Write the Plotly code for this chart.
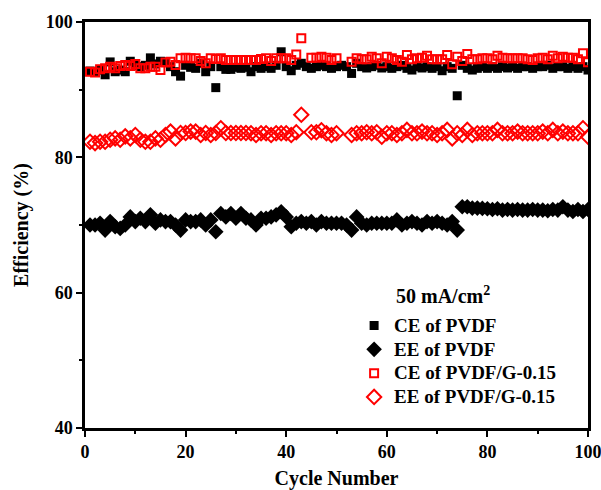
import plotly.graph_objects as go

# Cycle index 1..100
cycles = list(range(1, 101))

# Coulombic efficiency of PVDF membrane (%)
ce_pvdf = [
    92.75, 92.65, 92.9, 92.2, 94.1, 92.65, 92.9, 92.65, 94.2, 93.6,
    93.4, 93.6, 94.7, 93.8, 94.2, 94.1, 93.4, 92.65, 92.0, 93.6,
    93.3, 93.15, 93.9, 92.65, 93.4, 90.3, 93.4, 93.0, 93.0, 93.3,
    93.15, 93.3, 92.65, 93.4, 93.15, 93.4, 93.15, 93.6, 95.6, 93.4,
    92.8, 93.6, 93.9, 93.4, 93.15, 93.4, 93.6, 93.4, 93.15, 93.4,
    93.6, 93.4, 92.4, 93.9, 93.4, 93.2, 93.4, 93.6, 93.2, 93.4,
    93.15, 93.4, 93.6, 93.15, 92.9, 93.4, 93.2, 93.4, 93.15, 93.4,
    92.8, 93.4, 93.15, 89.1, 93.6, 93.15, 92.9, 93.15, 93.4, 93.15,
    93.4, 93.15, 93.4, 93.2, 93.4, 93.15, 93.4, 93.4, 93.15, 93.4,
    93.4, 93.6, 93.15, 93.4, 93.4, 93.15, 93.4, 93.15, 93.4, 92.9,
]

# Energy efficiency of PVDF membrane (%)
ee_pvdf = [
    70.0, 70.0, 70.25, 69.25, 70.5, 69.75, 69.5, 70.0, 71.2, 70.5,
    71.0, 70.5, 71.5, 70.25, 70.75, 70.5, 70.5, 70.0, 69.25, 70.75,
    70.5, 70.5, 70.75, 70.0, 70.75, 69.0, 71.7, 71.2, 71.7, 71.0,
    71.7, 71.0, 70.75, 70.0, 71.0, 71.0, 71.2, 71.5, 71.95, 71.2,
    69.75, 70.25, 70.5, 70.25, 70.5, 70.0, 70.5, 70.25, 70.25, 70.25,
    70.25, 70.0, 69.25, 71.2, 70.25, 70.0, 70.25, 70.25, 70.25, 70.25,
    70.25, 70.75, 70.0, 70.25, 70.5, 70.25, 70.0, 70.5, 70.25, 70.5,
    70.25, 70.0, 70.5, 69.25, 72.7, 72.7, 72.5, 72.5, 72.45, 72.4,
    72.3, 72.4, 72.2, 72.3, 72.2, 72.3, 72.2, 72.2, 72.3, 72.2,
    72.2, 72.1, 72.3, 72.2, 72.7, 72.2, 72.0, 72.3, 72.0, 72.3,
]

# Coulombic efficiency of PVDF/G-0.15 membrane (%)
ce_g = [
    92.65, 92.55, 93.0, 93.15, 93.4, 93.15, 93.5, 93.64, 93.5, 93.8,
    93.15, 93.15, 93.4, 93.4, 92.9, 94.0, 94.13, 93.64, 94.63, 94.73,
    94.63, 94.63, 94.24, 93.9, 94.63, 94.53, 94.63, 94.38, 94.38, 94.38,
    94.38, 94.38, 94.38, 94.38, 94.53, 94.63, 94.24, 94.63, 94.63, 94.63,
    94.38, 95.2, 97.6, None, 94.73, 94.73, 94.87, 94.73, 94.38, 94.63,
    None, None, 94.14, 94.63, 94.48, 94.48, 94.87, 94.63, 93.89, 94.87,
    94.63, 94.38, 94.14, 95.12, 94.48, 94.63, 94.73, 95.02, 94.48, 94.48,
    94.48, 95.12, 93.74, 94.87, 94.24, 95.27, 94.48, 94.48, 94.63, 94.63,
    94.48, 95.02, 94.73, 94.63, 94.63, 94.63, 94.63, 94.48, 94.38, 94.63,
    94.73, 94.48, 95.02, 94.63, 94.87, 94.73, 94.73, 94.48, 95.37, 94.04,
]

# Energy efficiency of PVDF/G-0.15 membrane (%)
ee_g = [
    82.3, 82.1, 82.3, 82.3, 82.6, 82.8, 82.6, 83.1, 82.8, 83.3,
    82.6, 82.3, 82.3, 82.8, 82.6, 83.3, 83.8, 82.8, 83.6, 83.6,
    83.8, 83.8, 83.3, 83.6, 83.3, 83.6, 84.3, 83.6, 83.6, 83.6,
    83.6, 83.6, 83.55, 83.3, 83.55, 83.55, 83.3, 83.55, 83.55, 83.55,
    83.3, 83.7, 86.3, None, 83.7, 83.7, 84.0, 83.55, 83.3, 83.55,
    None, None, 83.3, 83.55, 83.55, 83.7, 83.55, 83.7, 83.05, 83.55,
    83.55, 83.3, 83.55, 84.05, 83.55, 83.55, 83.8, 83.55, 83.55, 83.3,
    83.55, 84.05, 82.8, 83.55, 83.3, 84.05, 83.3, 83.55, 83.55, 83.55,
    83.55, 84.05, 83.55, 83.55, 83.55, 83.8, 83.55, 83.55, 83.55, 83.55,
    83.8, 83.55, 84.05, 83.55, 83.8, 83.55, 83.55, 83.55, 84.3, 83.05,
]

series_names = ["CE of PVDF", "EE of PVDF", "CE of PVDF/G-0.15", "EE of PVDF/G-0.15"]
x_ticks = [0, 20, 40, 60, 80, 100]
y_ticks = [40, 60, 80, 100]

serif = "Liberation Serif"
red = "#ff0000"


def legend_label(name):
    # larger glyphs than the legend's base font keeps rows tightly spaced
    return f'<span style="font-size:19px">{name}</span>'


fig = go.Figure()
fig.add_trace(go.Scatter(
    x=cycles, y=ce_pvdf, mode="markers", name=legend_label(series_names[0]),
    marker=dict(symbol="square", size=9, color="black", line=dict(width=0)),
))
fig.add_trace(go.Scatter(
    x=cycles, y=ee_pvdf, mode="markers", name=legend_label(series_names[1]),
    marker=dict(symbol="diamond", size=12, color="black", line=dict(width=0)),
))
fig.add_trace(go.Scatter(
    x=cycles, y=ce_g, mode="markers", name=legend_label(series_names[2]),
    marker=dict(symbol="square-open", size=8, color=red, line=dict(width=2, color=red)),
))
fig.add_trace(go.Scatter(
    x=cycles, y=ee_g, mode="markers", name=legend_label(series_names[3]),
    marker=dict(symbol="diamond-open", size=11, color=red, line=dict(width=2, color=red)),
))

axis_common = dict(
    showline=True, linecolor="black", linewidth=2.5, mirror=True,
    ticks="outside", ticklen=6, tickwidth=2, tickcolor="black",
    showgrid=False, zeroline=False, automargin=False,
    ticklabeloverflow="allow",
    tickfont=dict(family=serif, size=18, color="black", weight="bold"),
)

fig.update_layout(
    width=601, height=490,
    margin=dict(l=85, r=13, t=22, b=62),
    paper_bgcolor="white", plot_bgcolor="white",
    showlegend=True,
    legend=dict(
        x=0.535, y=0.294, xanchor="left", yanchor="top",
        bgcolor="rgba(0,0,0,0)", borderwidth=0,
        font=dict(family=serif, size=16, color="black", weight="bold"),
        itemwidth=30, tracegroupgap=0,
    ),
    xaxis=dict(
        range=[0, 100], tickvals=x_ticks,
        minor=dict(ticks="outside", ticklen=3, tickwidth=2, dtick=10, tick0=0, tickcolor="black"),
        title=dict(text="Cycle Number", standoff=14,
                   font=dict(family=serif, size=20, color="black", weight="bold")),
        **axis_common,
    ),
    yaxis=dict(
        range=[40, 100], tickvals=y_ticks,
        minor=dict(ticks="outside", ticklen=3, tickwidth=2, dtick=10, tick0=40, tickcolor="black"),
        title=dict(text="Efficiency (%)", standoff=12,
                   font=dict(family=serif, size=20, color="black", weight="bold")),
        **axis_common,
    ),
    annotations=[dict(
        text="50 mA/cm<sup>2</sup>", xref="paper", yref="paper",
        x=(394 - 85) / 503, y=(428 - 295) / 406, xanchor="left", yanchor="middle",
        showarrow=False,
        font=dict(family=serif, size=20, color="black", weight="bold"),
    )],
)

fig.write_html("out.html")
